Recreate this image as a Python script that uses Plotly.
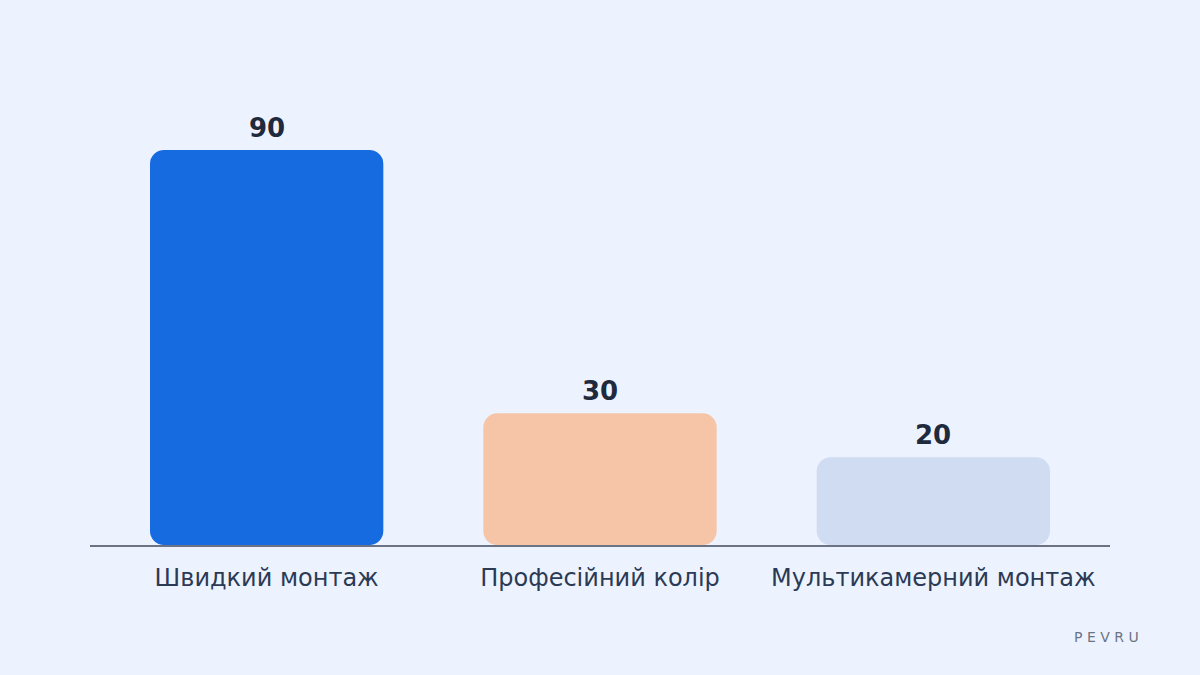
import plotly.graph_objects as go

categories = ["Швидкий монтаж", "Професійний колір", "Мультикамерний монтаж"]
values = [90, 30, 20]
bar_colors = ["#176be0", "#f6c4a6", "#d0dcf2"]

BG = "#edf3fe"
FONT = "DejaVu Sans"

fig = go.Figure(go.Bar(
    x=categories, y=values, base=[0] * len(values),
    marker=dict(color=bar_colors, cornerradius=14, line=dict(width=0)),
    width=0.7, hoverinfo="skip", showlegend=False,
))

for cat, v in zip(categories, values):
    fig.add_annotation(
        x=cat, y=v, text=f"<b>{v}</b>", showarrow=False,
        yanchor="bottom", yshift=5,
        font=dict(family=FONT, size=26, color="#1f2a3d"),
    )

fig.add_annotation(
    xref="paper", yref="paper", x=1.03, y=-0.19,
    xanchor="right", yanchor="middle", showarrow=False,
    text="P E V R U", font=dict(family=FONT, size=14, color="#6b7385"),
)

fig.update_layout(
    width=1200, height=675,
    paper_bgcolor=BG, plot_bgcolor=BG,
    margin=dict(l=90, r=90, t=60, b=130),
    xaxis=dict(
        range=[-0.53, 2.53],
        showgrid=False, zeroline=False,
        showline=True, linecolor="#6b7385", linewidth=2,
        ticks="", ticklabelstandoff=10,
        tickfont=dict(family=FONT, size=24, color="#2b3a55"),
        fixedrange=True,
    ),
    yaxis=dict(
        range=[0, 110.5], visible=False, showgrid=False, zeroline=False,
        fixedrange=True,
    ),
    font=dict(family=FONT),
)

fig.write_html(
    "out.html",
    config={"displayModeBar": False},
    post_script="document.body.style.margin='0';",
)
